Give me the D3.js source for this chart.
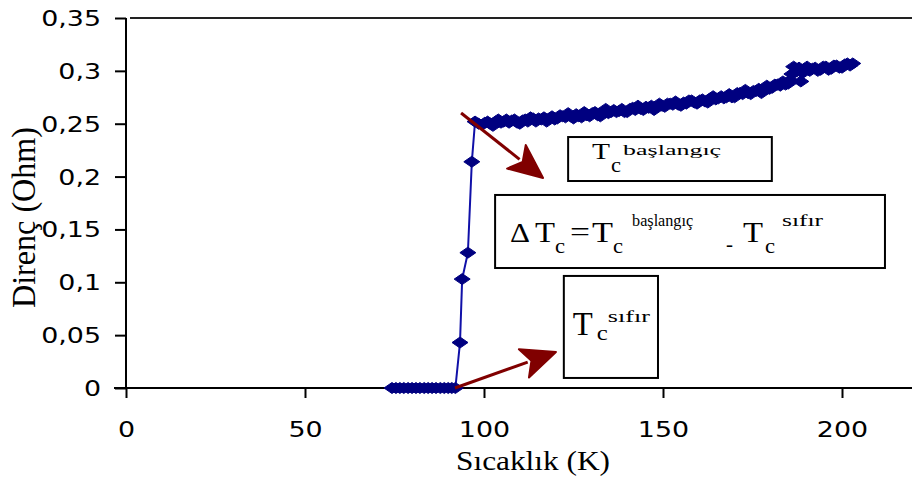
<!DOCTYPE html>
<html>
<head>
<meta charset="utf-8">
<script src="https://cdn.jsdelivr.net/npm/d3@7"></script>
<style>
  body { margin: 0; background: #fff; }
  svg { display: block; }
</style>
</head>
<body>
<div id="chart"></div>
<script>
////// DATA //////
// measured temperature (K) and resistance (Ohm), read off the picture
const temperature = [
  74.3, 75.4, 76.5, 77.6, 78.8, 79.9, 81, 82.1, 83.3, 84.4,
  85.5, 86.6, 87.8, 88.9, 90, 91, 92,
  93.3, 93.9, 95.5, 96.6,
  97.5, 98.5, 99.5, 100.25, 101, 101.75, 102.5, 103.25, 104, 104.75,
  105.5, 106.25, 107, 107.75, 108.5, 109.25, 110, 110.75, 111.5, 112.25,
  113, 113.75, 114.5, 115.25, 116, 116.75, 117.5, 118.25, 119, 119.75,
  120.5, 121.25, 122, 122.75, 123.5, 124.25, 125, 125.75, 126.5, 127.25,
  128, 128.75, 129.5, 130.25, 131, 131.75, 132.5, 133.25, 134, 134.75,
  135.5, 136.25, 137, 137.75, 138.5, 139.25, 140, 140.75, 141.5, 142.25,
  143, 143.75, 144.5, 145.25, 146, 146.75, 147.5, 148.25, 149, 149.75,
  150.5, 151.25, 152, 152.75, 153.5, 154.25, 155, 155.75, 156.5, 157.25,
  158, 158.75, 159.5, 160.25, 161, 161.75, 162.5, 163.25, 164, 164.75,
  165.5, 166.25, 167, 167.75, 168.5, 169.25, 170, 170.75, 171.5, 172.25,
  173, 173.75, 174.5, 175.25, 176, 176.75, 177.5, 178.25, 179, 179.75,
  180.5, 181.25, 182, 182.75, 183.5, 184.25, 185, 185.5, 186, 186.5,
  187, 187.5, 188, 188.5, 189, 189.5, 190.25, 191, 191.75, 192.5,
  193.25, 194, 194.75, 195.5, 196.25, 197, 197.75, 198.5, 199.25, 200,
  200.75, 201.5, 202.25, 203
]
const resistance = [
  0, 0, 0, 0, 0, 0, 0, 0, 0, 0,
  0, 0, 0, 0, 0, 0, 0,
  0.043, 0.103, 0.128, 0.214,
  0.252, 0.250, 0.249, 0.251, 0.252, 0.250, 0.248, 0.252, 0.254, 0.251,
  0.252, 0.254, 0.251, 0.253, 0.254, 0.251, 0.250, 0.253, 0.254, 0.252,
  0.256, 0.255, 0.252, 0.255, 0.254, 0.256, 0.252, 0.255, 0.257, 0.254,
  0.255, 0.258, 0.257, 0.256, 0.260, 0.257, 0.255, 0.259, 0.257, 0.256,
  0.261, 0.258, 0.257, 0.260, 0.261, 0.258, 0.257, 0.261, 0.264, 0.260,
  0.261, 0.263, 0.261, 0.262, 0.264, 0.261, 0.261, 0.264, 0.265, 0.263,
  0.267, 0.264, 0.263, 0.266, 0.265, 0.267, 0.263, 0.266, 0.269, 0.267,
  0.266, 0.269, 0.269, 0.268, 0.271, 0.268, 0.267, 0.270, 0.269, 0.272,
  0.272, 0.270, 0.269, 0.272, 0.273, 0.271, 0.270, 0.274, 0.276, 0.273,
  0.274, 0.276, 0.274, 0.275, 0.278, 0.275, 0.275, 0.279, 0.279, 0.278,
  0.282, 0.279, 0.278, 0.281, 0.281, 0.283, 0.279, 0.282, 0.286, 0.283,
  0.284, 0.287, 0.287, 0.286, 0.290, 0.287, 0.288, 0.291, 0.297, 0.304,
  0.299, 0.300, 0.303, 0.290, 0.298, 0.302, 0.304, 0.300, 0.302, 0.303,
  0.300, 0.301, 0.304, 0.304, 0.301, 0.302, 0.305, 0.305, 0.303, 0.303,
  0.306, 0.307, 0.305, 0.307
]

const xTicks = [0, 50, 100, 150, 200]
const xTickLabels = ["0", "50", "100", "150", "200"]
const yTicks = [0, 0.05, 0.1, 0.15, 0.2, 0.25, 0.3, 0.35]
const yTickLabels = ["0", "0,05", "0,1", "0,15", "0,2", "0,25", "0,3", "0,35"]
const xTitle = "Sıcaklık (K)"
const yTitle = "Direnç (Ohm)"

// annotation arrows (data units)
const arrowFrom = [[93.6, 0.2601], [91.9, 0]]
const arrowTo = [[116.5, 0.1987], [120.1, 0.0341]]
// annotation boxes: [x0, yTop, x1, yBottom] in data units
const boxCorners = [
  [123.5, 0.2374, 180.4, 0.1958],
  [103.1, 0.1826, 212.0, 0.1135],
  [122.3, 0.1060, 148.6, 0.0095]
]

////// LAYOUT //////
const W = 912, H = 484
const svg = d3.select("#chart").append("svg")
  .attr("width", W)
  .attr("height", H)

const x = d3.scaleLinear().domain([0, 220]).range([126, 126 + 220 * 3.58])
const y = d3.scaleLinear().domain([0, 0.35]).range([388, 18])

const tickFont = "'DejaVu Sans', sans-serif"
const serif = "'Liberation Serif', 'Times New Roman', serif"

// top frame line
svg.append("line")
  .attr("x1", 130).attr("x2", W)
  .attr("y1", y(0.35)).attr("y2", y(0.35))
  .attr("stroke", "#222").attr("stroke-width", 2)

// x axis
let gx = svg.append("g")
  .attr("transform", `translate(0,${y(0)})`)
  .call(d3.axisBottom(x).tickValues(xTicks).tickFormat((d, i) => xTickLabels[i]).tickSize(10).tickSizeOuter(0))
gx.select(".domain").remove()
gx.append("line").attr("x1", x(0) - 12).attr("x2", W).attr("stroke", "#000").attr("stroke-width", 2)
gx.selectAll(".tick line").attr("stroke", "#000").attr("stroke-width", 2)
gx.selectAll(".tick text")
  .attr("fill", "#000")
  .attr("font-family", tickFont)
  .attr("font-size", 21)
  .attr("y", 49).attr("dy", 0)
  .attr("transform", "scale(1.28,1)")

// y axis
let gy = svg.append("g")
  .attr("transform", `translate(${x(0)},0)`)
  .call(d3.axisLeft(y).tickValues(yTicks).tickFormat((d, i) => yTickLabels[i]).tickSize(11).tickSizeOuter(0))
gy.select(".domain").remove()
gy.append("line").attr("y1", y(0.35)).attr("y2", y(0)).attr("stroke", "#000").attr("stroke-width", 2)
gy.selectAll(".tick line").attr("stroke", "#000").attr("stroke-width", 2)
gy.selectAll(".tick text")
  .attr("fill", "#000")
  .attr("font-family", tickFont)
  .attr("font-size", 21)
  .attr("x", -25 / 1.28).attr("dy", "0.36em")
  .attr("transform", "scale(1.28,1)")

// axis titles
svg.append("text")
  .attr("x", 456).attr("y", 470)
  .attr("font-family", serif).attr("font-size", 27)
  .attr("textLength", 154).attr("lengthAdjust", "spacingAndGlyphs")
  .text(xTitle)

svg.append("text")
  .attr("transform", "translate(35,308) scale(1.28,1) rotate(-90)")
  .attr("font-family", serif).attr("font-size", 27)
  .attr("textLength", 181).attr("lengthAdjust", "spacingAndGlyphs")
  .text(yTitle)

////// SERIES //////
const dataset = temperature.map((t, i) => [t, resistance[i]])

let line = d3.line()
  .x(d => x(d[0]))
  .y(d => y(d[1]))

svg.append("path")
  .datum(dataset)
  .attr("fill", "none")
  .attr("stroke", "#1010a8")
  .attr("stroke-width", 2)
  .attr("d", line)

// diamond markers
svg.selectAll(".pt").data(dataset)
  .enter().append("path")
  .attr("class", "pt")
  .attr("d", "M0,-5.5L8,0L0,5.5L-8,0Z")
  .attr("transform", d => `translate(${x(d[0])},${y(d[1])})`)
  .attr("fill", "#000080")
  .attr("stroke", "#000080")
  .attr("stroke-width", 1)
  .attr("stroke-linejoin", "round")

////// ANNOTATIONS //////
arrowFrom.forEach((f, i) => {
  const p0 = [x(f[0]), y(f[1])]
  const tip = [x(arrowTo[i][0]), y(arrowTo[i][1])]
  const dx = tip[0] - p0[0], dy = tip[1] - p0[1]
  const len = Math.hypot(dx, dy)
  const ux = dx / len, uy = dy / len
  const headL = 34, headW = 15
  const base = [tip[0] - ux * headL, tip[1] - uy * headL]
  svg.append("line")
    .attr("x1", p0[0]).attr("y1", p0[1])
    .attr("x2", base[0] + ux * 4).attr("y2", base[1] + uy * 4)
    .attr("stroke", "#800000").attr("stroke-width", 3)
  svg.append("path")
    .attr("d", `M${tip[0]},${tip[1]}L${base[0] - uy * headW},${base[1] + ux * headW}L${base[0] + ux * 8},${base[1] + uy * 8}L${base[0] + uy * headW},${base[1] - ux * headW}Z`)
    .attr("fill", "#800000")
    .attr("stroke", "#800000")
    .attr("stroke-width", 2)
    .attr("stroke-linejoin", "round")
})

// text pieces of each box: offsets from the box top-left corner
const boxTexts = [
  [
    { t: "T", dx: 24, dy: 22, size: 24, w: 18 },
    { t: "c", dx: 43, dy: 35, size: 20, w: 10 },
    { t: "başlangıç", dx: 55, dy: 18, size: 15, w: 98 }
  ],
  [
    { t: "Δ", dx: 15, dy: 47, size: 28, w: 20 },
    { t: "T", dx: 40, dy: 47, size: 30, w: 20 },
    { t: "c", dx: 60, dy: 58, size: 22, w: 10 },
    { t: "=", dx: 75, dy: 46, size: 28, w: 20 },
    { t: "T", dx: 97, dy: 47, size: 30, w: 21 },
    { t: "c", dx: 118, dy: 58, size: 22, w: 10 },
    { t: "başlangıç", dx: 137, dy: 31, size: 16, w: 61 },
    { t: "-", dx: 231, dy: 56, size: 22, w: 7 },
    { t: "T", dx: 248, dy: 47, size: 30, w: 20 },
    { t: "c", dx: 270, dy: 58, size: 22, w: 10 },
    { t: "sıfır", dx: 287, dy: 31, size: 16, w: 41 }
  ],
  [
    { t: "T", dx: 9, dy: 59, size: 34, w: 20 },
    { t: "c", dx: 33, dy: 64, size: 22, w: 11 },
    { t: "sıfır", dx: 44, dy: 46, size: 17, w: 42 }
  ]
]

boxCorners.forEach((b, i) => {
  const bx = x(b[0]), by = y(b[1])
  svg.append("rect")
    .attr("x", bx).attr("y", by)
    .attr("width", x(b[2]) - bx).attr("height", y(b[3]) - by)
    .attr("fill", "#fff")
    .attr("stroke", "#000").attr("stroke-width", 2)
  boxTexts[i].forEach(p => {
    svg.append("text")
      .attr("x", bx + p.dx).attr("y", by + p.dy)
      .attr("font-family", serif).attr("font-size", p.size)
      .attr("textLength", p.w).attr("lengthAdjust", "spacingAndGlyphs")
      .text(p.t)
  })
})
</script>
</body>
</html>
